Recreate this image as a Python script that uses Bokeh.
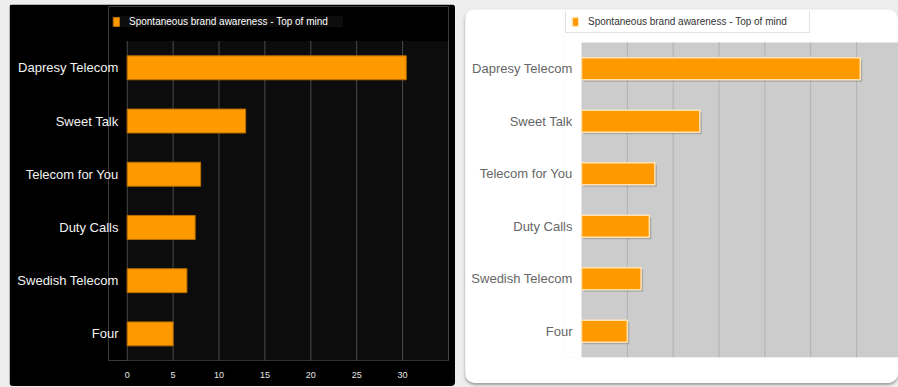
from bokeh.plotting import figure
from bokeh.layouts import row
from bokeh.models import (FixedTicker, Legend, LegendItem, Range1d,
                          ColumnDataSource, BoxAnnotation)
from bokeh.embed import file_html
from bokeh.resources import INLINE

categories = ["Dapresy Telecom", "Sweet Talk", "Telecom for You", "Duty Calls", "Swedish Telecom", "Four"]
values = [30.4, 12.9, 8.0, 7.4, 6.5, 5.0]
x_ticks = [0, 5, 10, 15, 20, 25, 30]
grid_ticks = [0, 5, 10, 15, 20, 25, 30, 35]
series_name = "Spontaneous brand awareness - Top of mind"

FONT = "Liberation Sans"
ORANGE = "#ff9900"

n = len(categories)
ypos = list(range(n))[::-1]          # first category at the top
y_lo, y_hi = -0.5, n - 0.5           # extent of the category band

src = ColumnDataSource(dict(cat=categories, y=ypos, val=values,
                            shadow_y=[y - 0.04 for y in ypos],
                            shadow_r=[v + 0.22 for v in values]))


def style_axes(p, label_color, standoff):
    p.outline_line_color = None
    p.xgrid.visible = False
    p.ygrid.visible = False
    p.yaxis.ticker = FixedTicker(ticks=ypos)
    p.yaxis.major_label_overrides = {y: c for y, c in zip(ypos, categories)}
    p.yaxis.axis_line_color = None
    p.yaxis.major_tick_line_color = None
    p.yaxis.minor_tick_line_color = None
    p.yaxis.major_label_text_font = FONT
    p.yaxis.major_label_text_font_size = "13px"
    p.yaxis.major_label_text_color = label_color
    p.yaxis.major_label_standoff = standoff
    p.xaxis.ticker = FixedTicker(ticks=x_ticks)
    p.xaxis.axis_line_color = None
    p.xaxis.major_tick_line_color = None
    p.xaxis.minor_tick_line_color = None
    p.xaxis.major_label_text_font = FONT
    p.xaxis.major_label_text_font_size = "9px"
    p.xaxis.major_label_standoff = 5


def make_legend(r, loc, bg, border, text_color, padding, label_width):
    leg = Legend(items=[LegendItem(label=series_name, renderers=[r])], location=loc)
    leg.background_fill_color = bg
    leg.background_fill_alpha = 1
    leg.border_line_color = border
    leg.padding = padding
    leg.margin = 0
    leg.glyph_width = 8
    leg.glyph_height = 11
    leg.label_height = 11
    leg.label_standoff = 9
    leg.label_width = label_width
    leg.label_text_font = FONT
    leg.label_text_font_size = "10px"
    leg.label_text_color = text_color
    return leg


# ---------------- dark chart ----------------
p1 = figure(width=446, height=382,
            x_range=Range1d(-2.04, 35), y_range=Range1d(y_lo, y_hi + 0.652),
            output_backend="svg", toolbar_location=None,
            min_border_left=99, min_border_right=7,
            min_border_top=2, min_border_bottom=23,
            margin=(4, 0, 1, 9),
            styles={"border-radius": "4px", "overflow": "hidden"})
p1.background_fill_color = "#000000"
p1.border_fill_color = "#000000"
style_axes(p1, "#f2f2f2", -16)
p1.xaxis.major_label_text_color = "#e6e6e6"
p1.add_layout(BoxAnnotation(left=0, bottom=y_lo, top=y_hi, fill_color="#0c0c0c",
                            fill_alpha=1, line_color=None, level="underlay"))
p1.segment(x0=grid_ticks, x1=grid_ticks, y0=[y_lo] * len(grid_ticks),
           y1=[y_hi] * len(grid_ticks), line_color="#8a8a8a", line_width=1,
           line_dash="1 1")
r1 = p1.hbar(y="y", left=0, right="val", height=0.45, source=src,
             fill_color=ORANGE, line_color="#b86e00", line_width=1)
p1.add_layout(make_legend(r1, (4, 333), "#0d0d0d", None, "#ffffff", 4, 214), "center")

# ---------------- light chart ----------------
p2 = figure(width=433, height=374,
            x_range=Range1d(-1.854, 34.57), y_range=Range1d(y_lo, y_hi + 0.590),
            output_backend="svg", toolbar_location=None,
            min_border_left=99, min_border_right=0,
            min_border_top=2, min_border_bottom=26,
            margin=(9, 0, 4, 0),
            styles={"border-radius": "10px", "overflow": "hidden",
                    "box-shadow": "0 2px 3px rgba(0,0,0,0.35)"})
p2.background_fill_color = "#ffffff"
p2.border_fill_color = "#ffffff"
style_axes(p2, "#666666", -14)
p2.xaxis.visible = False
p2.add_layout(BoxAnnotation(left=0, bottom=y_lo, top=y_hi, fill_color="#cccccc",
                            fill_alpha=1, line_color=None, level="underlay"))
p2.segment(x0=grid_ticks[1:], x1=grid_ticks[1:], y0=[y_lo] * (len(grid_ticks) - 1),
           y1=[y_hi] * (len(grid_ticks) - 1), line_color="#999999", line_width=1,
           line_dash="1 1")
p2.hbar(y="shadow_y", left=0.22, right="shadow_r", height=0.42, source=src,
        fill_color="#000000", fill_alpha=0.18, line_color=None)
r2 = p2.hbar(y="y", left=0, right="val", height=0.42, source=src,
             fill_color=ORANGE, line_color="#ffe3b3", line_width=1.5)
p2.add_layout(make_legend(r2, (1, 324), "#ffffff", "#c8c8c8", "#333333", 5, 216), "center")

layout = row(p1, p2, spacing=10, styles={"background-color": "#eeeeee"})

open("out.html", "w").write(file_html(layout, INLINE))
